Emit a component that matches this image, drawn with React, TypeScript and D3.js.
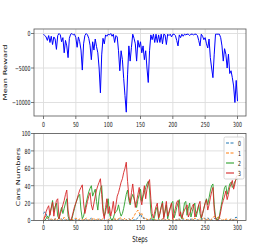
import * as d3 from "d3";

// x positions shared by both panels (every second step)
const steps = [
  0, 2, 4, 6, 8, 10, 12, 14, 16, 18, 20, 22, 24, 26, 28, 30, 32, 34, 36, 38,
  40, 42, 44, 46, 48, 50, 52, 54, 56, 58, 60, 62, 64, 66, 68, 70, 72, 74, 76, 78,
  80, 82, 84, 86, 88, 90, 92, 94, 96, 98, 100, 102, 104, 106, 108, 110, 112, 114, 116, 118,
  120, 122, 124, 126, 128, 130, 132, 134, 136, 138, 140, 142, 144, 146, 148, 150, 152, 154, 156, 158,
  160, 162, 164, 166, 168, 170, 172, 174, 176, 178, 180, 182, 184, 186, 188, 190, 192, 194, 196, 198,
  200, 202, 204, 206, 208, 210, 212, 214, 216, 218, 220, 222, 224, 226, 228, 230, 232, 234, 236, 238,
  240, 242, 244, 246, 248, 250, 252, 254, 256, 258, 260, 262, 264, 266, 268, 270, 272, 274, 276, 278,
  280, 282, 284, 286, 288, 290, 292, 294, 296, 298, 300,
];

const meanReward = [
  -100, -300, -500, -1000, -300, -1300, -400, -1600, -500, -800,
  -2300, -300, 0, -200, -1200, -600, -2800, -1000, -1800, -3500,
  -700, -100, 0, -200, -100, -600, -2000, -500, -1200, -2400,
  -5300, -1500, -300, 0, -200, -700, -1700, -3800, -1200, -2400,
  -800, -1900, -2800, -5000, -8600, -3100, -700, -1500, -200, -400,
  -100, -200, 0, -400, -100, -1300, -300, -500, -2500, -5400,
  -2500, -3800, -6500, -9000, -11400, -6000, -1800, -4000, -2000, -100,
  -700, -1500, -4000, -1000, -2000, -1200, -2800, -1800, -3800, -2500,
  -5000, -7100, -2500, -200, -900, -100, -1300, -100, -1300, -200,
  -1300, -100, -1500, -100, -200, -1600, -100, -300, -100, -500,
  -100, -100, -300, -1000, -1800, -200, -600, -100, -400, -100,
  -200, -100, -100, -300, -100, -100, -200, -100, -100, -300,
  -1000, -1800, -100, -400, -900, -600, -1500, -2100, -800, -3500,
  -5000, -6400, -3000, -100, -100, -100, -100, -600, -1800, -4000,
  -2200, -3000, -5000, -3000, -5800, -5400, -6400, -7600, -10000, -6800,
  -9800,
];

const cars0 = [
  8, 10, 8, 3, 1, 2, 0, 1, 0, 2,
  1, 0, 0, 1, 2, 0, 1, 0, 2, 1,
  0, 1, 0, 0, 2, 1, 0, 1, 0, 0,
  1, 0, 2, 1, 0, 0, 1, 3, 1, 0,
  0, 1, 0, 2, 1, 0, 0, 1, 0, 0,
  1, 0, 0, 2, 0, 1, 0, 0, 1, 2,
  0, 1, 0, 0, 1, 0, 2, 1, 0, 0,
  1, 0, 2, 3, 5, 8, 4, 2, 3, 1,
  0, 1, 0, 2, 0, 0, 1, 0, 0, 1,
  0, 0, 2, 0, 1, 0, 0, 1, 0, 0,
  1, 0, 0, 1, 0, 2, 0, 0, 1, 0,
  0, 1, 0, 0, 2, 0, 1, 0, 0, 1,
  0, 0, 1, 2, 3, 2, 1, 3, 2, 0,
  1, 0, 2, 3, 1, 0, 0, 1, 0, 0,
  1, 0, 0, 1, 0, 2, 1, 0, 3, 4,
  2,
];

const cars1 = [
  3, 4, 5, 3, 2, 1, 2, 0, 1, 2,
  0, 1, 3, 2, 0, 1, 4, 2, 0, 0,
  1, 0, 2, 0, 1, 3, 1, 0, 2, 1,
  0, 2, 1, 3, 2, 0, 1, 0, 3, 2,
  1, 0, 2, 1, 0, 1, 2, 0, 0, 1,
  0, 2, 1, 0, 1, 3, 0, 1, 2, 4,
  2, 0, 1, 3, 1, 0, 2, 1, 0, 3,
  5, 8, 10, 12, 9, 6, 8, 4, 2, 1,
  2, 0, 1, 3, 1, 0, 2, 0, 1, 2,
  0, 1, 2, 0, 1, 0, 2, 1, 0, 1,
  2, 0, 1, 0, 2, 1, 0, 1, 3, 1,
  0, 2, 1, 0, 1, 2, 0, 3, 1, 0,
  1, 2, 0, 1, 3, 1, 0, 2, 1, 0,
  2, 3, 5, 4, 2, 5, 3, 1, 0, 1,
  0, 2, 1, 0, 1, 2, 0, 1, 2, 1,
  0,
];

const cars2 = [
  0, 0, 2, 5, 3, 8, 15, 23, 10, 16,
  20, 5, 2, 10, 15, 8, 14, 20, 25, 5,
  0, 0, 2, 8, 14, 20, 24, 28, 30, 12,
  2, 5, 12, 20, 27, 33, 37, 40, 28, 32,
  36, 22, 12, 28, 36, 40, 15, 5, 10, 18,
  25, 8, 2, 0, 3, 8, 10, 12, 18, 10,
  5, 8, 14, 22, 30, 35, 23, 18, 26, 30,
  25, 20, 15, 24, 30, 36, 22, 28, 32, 38,
  42, 45, 35, 10, 2, 0, 5, 12, 16, 2,
  8, 16, 22, 4, 10, 18, 2, 8, 14, 20,
  22, 3, 8, 15, 20, 24, 5, 2, 10, 20,
  22, 6, 14, 20, 4, 10, 16, 20, 4, 10,
  18, 8, 2, 8, 14, 20, 25, 18, 26, 34,
  40, 42, 18, 4, 0, 2, 5, 14, 22, 30,
  38, 40, 30, 36, 42, 44, 38, 40, 45, 47,
  48,
];

const cars3 = [
  0, 4, 10, 14, 17, 6, 14, 21, 5, 15,
  23, 25, 2, 8, 12, 18, 23, 30, 35, 12,
  2, 0, 4, 10, 16, 20, 25, 30, 35, 38,
  41, 20, 8, 15, 22, 28, 32, 18, 12, 20,
  28, 35, 40, 44, 48, 30, 10, 2, 15, 25,
  8, 16, 5, 12, 22, 8, 18, 28, 32, 38,
  44, 48, 55, 60, 67, 45, 28, 20, 32, 42,
  28, 15, 22, 30, 38, 25, 18, 30, 40, 25,
  36, 43, 47, 25, 8, 3, 10, 16, 20, 3,
  8, 15, 20, 2, 12, 22, 5, 10, 15, 20,
  2, 8, 14, 21, 23, 5, 10, 3, 8, 12,
  15, 18, 4, 8, 12, 16, 19, 4, 8, 12,
  18, 22, 3, 8, 14, 20, 24, 12, 18, 26,
  33, 38, 12, 2, 0, 0, 3, 10, 18, 23,
  28, 34, 24, 30, 38, 42, 46, 36, 42, 50,
  52,
];

const stepTicks = [0, 50, 100, 150, 200, 250, 300];
const rewardTicks = [0, -5000, -10000];
const carTicks = [0, 20, 40, 60, 80, 100];
const seriesNames = ["0", "1", "2", "3"];
const seriesColors = ["#1f77b4", "#ff7f0e", "#2ca02c", "#d62728"];

const font = "DejaVu Sans";
const squeeze = 0.66; // the picture is narrower than it is tall
const gridColor = "#dcdcdc";
const spineColor = "#555";

// text squeezed sideways like the reference
const T = ({ x, y, size, anchor = "middle", rotate = false, baseline = "auto", children }) => (
	<text
		transform={`translate(${x},${y}) scale(${squeeze},1)${rotate ? " rotate(-90)" : ""}`}
		fontFamily={font}
		fontSize={size}
		textAnchor={anchor}
		dominantBaseline={baseline}
		fill="#111"
	>
		{children}
	</text>
);

export default function App() {
	const left = 34,
		right = 246;
	const top1 = 29,
		bottom1 = 116;
	const top2 = 133.5,
		bottom2 = 220.5;

	const x = d3.scaleLinear().domain([0, 300]).range([43.5, 237.5]);
	const y1 = d3.scaleLinear().domain([0, -10000]).range([33.5, 102.5]);
	const y2 = d3.scaleLinear().domain([0, 100]).range([bottom2, top2]);
	const fmt = d3.format("d");

	const rewardLine = d3
		.line()
		.x((d, i) => x(steps[i]))
		.y((d) => y1(d));
	const carLine = d3
		.line()
		.x((d, i) => x(steps[i]))
		.y((d) => y2(d));

	const cars = [cars0, cars1, cars2, cars3];

	return (
		<svg width={274} height={248} style={{ position: "absolute", left: 0, top: 0, background: "#fff" }}>
			{/* top panel */}
			<g>
				{stepTicks.map((t) => (
					<line key={t} x1={x(t)} x2={x(t)} y1={top1} y2={bottom1} stroke={gridColor} strokeWidth={0.9} />
				))}
				{rewardTicks.map((t) => (
					<line key={t} x1={left} x2={right} y1={y1(t)} y2={y1(t)} stroke={gridColor} strokeWidth={0.9} />
				))}
				<path d={rewardLine(meanReward)} fill="none" stroke="#0000ff" strokeWidth={1} strokeLinejoin="round" />
				<rect x={left} y={top1} width={right - left} height={bottom1 - top1} fill="none" stroke={spineColor} strokeWidth={0.8} />
				{stepTicks.map((t) => (
					<g key={t}>
						<line x1={x(t)} x2={x(t)} y1={bottom1} y2={bottom1 + 3} stroke={spineColor} strokeWidth={0.8} />
						<T x={x(t)} y={126.5} size={7}>
							{fmt(t)}
						</T>
					</g>
				))}
				{rewardTicks.map((t) => (
					<g key={t}>
						<line x1={left - 3} x2={left} y1={y1(t)} y2={y1(t)} stroke={spineColor} strokeWidth={0.8} />
						<T x={30.5} y={y1(t)} size={7} anchor="end" baseline="central">
							{fmt(t)}
						</T>
					</g>
				))}
				<T x={7.3} y={(top1 + bottom1) / 2} size={8.3} rotate>
					Mean Reward
				</T>
			</g>

			{/* bottom panel */}
			<g>
				{stepTicks.map((t) => (
					<line key={t} x1={x(t)} x2={x(t)} y1={top2} y2={bottom2} stroke={gridColor} strokeWidth={0.9} />
				))}
				{carTicks.map((t) => (
					<line key={t} x1={left} x2={right} y1={y2(t)} y2={y2(t)} stroke={gridColor} strokeWidth={0.9} />
				))}
				{cars.map((s, i) => (
					<path
						key={i}
						d={carLine(s)}
						fill="none"
						stroke={seriesColors[i]}
						strokeWidth={1}
						strokeDasharray={i < 2 ? "3,1.5" : undefined}
						strokeLinejoin="round"
						opacity={0.9}
					/>
				))}
				<rect x={left} y={top2} width={right - left} height={bottom2 - top2} fill="none" stroke={spineColor} strokeWidth={0.8} />
				{stepTicks.map((t) => (
					<g key={t}>
						<line x1={x(t)} x2={x(t)} y1={bottom2} y2={bottom2 + 3} stroke={spineColor} strokeWidth={0.8} />
						<T x={x(t)} y={230} size={7}>
							{fmt(t)}
						</T>
					</g>
				))}
				{carTicks.map((t) => (
					<g key={t}>
						<line x1={left - 3} x2={left} y1={y2(t)} y2={y2(t)} stroke={spineColor} strokeWidth={0.8} />
						<T x={30.5} y={y2(t)} size={7} anchor="end" baseline="central">
							{fmt(t)}
						</T>
					</g>
				))}
				<T x={20} y={(top2 + bottom2) / 2} size={8.3} rotate>
					Cars Numbers
				</T>
				<T x={(left + right) / 2} y={241.5} size={8.3}>
					Steps
				</T>

				{/* legend */}
				<rect x={224} y={137} width={20} height={42} rx={1.5} fill="#fff" fillOpacity={0.85} stroke="#ccc" strokeWidth={0.8} />
				{seriesNames.map((n, i) => (
					<g key={n}>
						<line
							x1={226}
							x2={234}
							y1={143 + i * 10}
							y2={143 + i * 10}
							stroke={seriesColors[i]}
							strokeWidth={1.1}
							strokeDasharray={i < 2 ? "3,1.5" : undefined}
						/>
						<T x={238} y={143 + i * 10} size={7} anchor="start" baseline="central">
							{n}
						</T>
					</g>
				))}
			</g>
		</svg>
	);
}
